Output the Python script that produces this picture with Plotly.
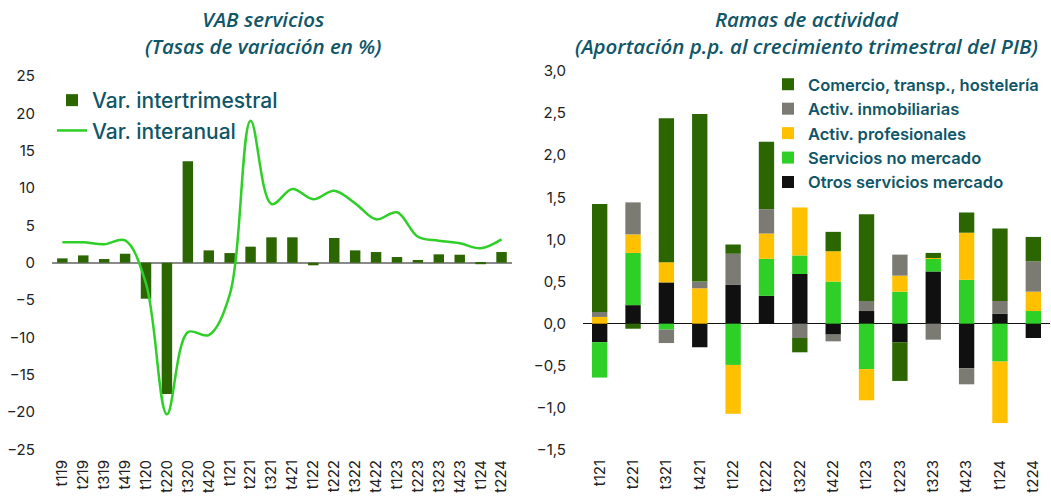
import plotly.graph_objects as go

# ---------------- data ----------------
quarters_left = ["t119", "t219", "t319", "t419", "t120", "t220", "t320", "t420",
                 "t121", "t221", "t321", "t421", "t122", "t222", "t322", "t422",
                 "t123", "t223", "t323", "t423", "t124", "t224"]
var_intertrimestral = [0.58, 0.98, 0.49, 1.2, -4.82, -17.6, 13.58, 1.65,
                       1.29, 2.15, 3.4, 3.4, -0.35, 3.31, 1.65, 1.43,
                       0.76, 0.36, 1.12, 1.07, -0.2, 1.43]
var_interanual = [2.73, 2.73, 2.46, 3.0, -2.8, -20.3, -9.3, -9.7,
                  -4.3, 19.0, 7.86, 9.87, 8.49, 9.65, 7.95, 5.81,
                  6.75, 3.48, 2.95, 2.6, 1.93, 3.13]

quarters_right = ["t121", "t221", "t321", "t421", "t122", "t222", "t322",
                  "t422", "t123", "t223", "t323", "t423", "t124", "t224"]
otros_servicios = [-0.22, 0.22, 0.49, -0.28, 0.46, 0.33, 0.59,
                   -0.13, 0.15, -0.22, 0.62, -0.53, 0.12, -0.17]
servicios_no_mercado = [-0.42, 0.62, -0.07, 0.0, -0.49, 0.44, 0.22,
                        0.50, -0.54, 0.38, 0.15, 0.52, -0.45, 0.15]
activ_profesionales = [0.08, 0.22, 0.24, 0.42, -0.58, 0.30, 0.57,
                       0.36, -0.37, 0.19, 0.01, 0.56, -0.73, 0.23]
activ_inmobiliarias = [0.06, 0.38, -0.16, 0.08, 0.37, 0.29, -0.17,
                       -0.08, 0.12, 0.25, -0.19, -0.19, 0.15, 0.36]
comercio_transp = [1.28, -0.06, 1.71, 1.99, 0.11, 0.80, -0.17,
                   0.23, 1.03, -0.46, 0.06, 0.24, 0.86, 0.29]

left_ticks = [25, 20, 15, 10, 5, 0, -5, -10, -15, -20, -25]
right_ticks = [3.0, 2.5, 2.0, 1.5, 1.0, 0.5, 0.0, -0.5, -1.0, -1.5]

# ---------------- style ----------------
DARK_GREEN = "#2b6600"
LIGHT_GREEN = "#2ecf27"
GRAY = "#7b7b73"
YELLOW = "#ffc000"
BLACK = "#101010"
TEAL = "#0f5668"
TICK_FONT = dict(family="Inter, Roboto, sans-serif", size=15, color="#222222")
LEG_FONT_L = dict(family="Inter, Roboto, sans-serif", size=21, color=TEAL, weight=500)
LEG_FONT_R = dict(family="Inter, Roboto, sans-serif", size=16.5, color=TEAL, weight=600)

W, H = 1051, 497
PT, PB = 71, 450          # plot area top / bottom in pixels
PH = PB - PT


def py(pix):
    """pixel row -> paper y"""
    return (PB - pix) / PH


fig = go.Figure()

# Left chart
fig.add_trace(go.Bar(
    x=quarters_left, y=var_intertrimestral, name="Var. intertrimestral",
    marker=dict(color=DARK_GREEN, line=dict(width=0)), width=0.5,
    xaxis="x", yaxis="y", legend="legend"))
fig.add_trace(go.Scatter(
    x=quarters_left, y=var_interanual, name="Var. interanual", mode="lines",
    line=dict(color=LIGHT_GREEN, width=2.5, shape="spline", smoothing=1.0),
    xaxis="x", yaxis="y", legend="legend"))

# Right chart
right_series = [
    ("Otros servicios mercado", otros_servicios, BLACK),
    ("Servicios no mercado", servicios_no_mercado, LIGHT_GREEN),
    ("Activ. profesionales", activ_profesionales, YELLOW),
    ("Activ. inmobiliarias", activ_inmobiliarias, GRAY),
    ("Comercio, transp., hostelería", comercio_transp, DARK_GREEN),
]
for name, vals, col in right_series:
    fig.add_trace(go.Bar(
        x=quarters_right, y=vals, name=name,
        marker=dict(color=col, line=dict(width=0)), width=0.46,
        xaxis="x2", yaxis="y2", legend="legend2"))

fig.update_layout(
    width=W, height=H,
    margin=dict(l=0, r=0, t=PT, b=H - PB),
    paper_bgcolor="white", plot_bgcolor="white",
    barmode="relative",
    separators=",.",
    showlegend=True,
    xaxis=dict(domain=[51.9 / W, 512 / W], type="category", tickangle=-90,
               tickfont=TICK_FONT, showgrid=False, showline=False, ticks="",
               automargin=False, ticklabelstandoff=6),
    yaxis=dict(range=[-25.09, 25.68], tickvals=left_ticks, tickfont=TICK_FONT,
               showgrid=False, zeroline=True, zerolinecolor="#8a8a8a",
               zerolinewidth=1.5, ticks="", automargin=False,
               ticklabelstandoff=16, showline=False),
    xaxis2=dict(domain=[583 / W, 1050 / W], type="category", tickangle=-90,
                tickfont=TICK_FONT, showgrid=False, showline=False, ticks="",
                automargin=False, anchor="y2", ticklabelstandoff=6),
    yaxis2=dict(range=[-1.5, 3.0], tickvals=right_ticks, tickformat=".1f",
                tickfont=TICK_FONT, showgrid=False, zeroline=True,
                zerolinecolor="#111111", zerolinewidth=1.2, ticks="",
                automargin=False, anchor="x2", ticklabelstandoff=16,
                showline=False),
    legend=dict(x=52 / W, y=py(80), xanchor="left", yanchor="top",
                font=LEG_FONT_L, bgcolor="rgba(0,0,0,0)", tracegroupgap=0,
                itemwidth=30, traceorder="normal"),
    legend2=dict(x=768 / W, y=py(67), xanchor="left", yanchor="top",
                 font=LEG_FONT_R, bgcolor="rgba(0,0,0,0)", tracegroupgap=0,
                 itemwidth=30, traceorder="reversed"),
)

TITLE_FONT = dict(family="Open Sans, sans-serif", size=20.5, color=TEAL,
                  style="italic", weight=600)
titles = [
    ("VAB servicios<br>(Tasas de variación en %)", 263),
    ("Ramas de actividad<br>(Aportación p.p. al crecimiento trimestral del PIB)", 806),
]
for txt, cx in titles:
    fig.add_annotation(text=txt, x=cx / W, y=py(33), xref="paper", yref="paper",
                       xanchor="center", yanchor="middle", showarrow=False,
                       font=TITLE_FONT, align="center")

fig.write_html(
    "out.html",
    config={"displayModeBar": False},
    post_script="document.body.style.margin='0px';document.body.style.padding='0px';"
                "document.documentElement.style.margin='0px';")
